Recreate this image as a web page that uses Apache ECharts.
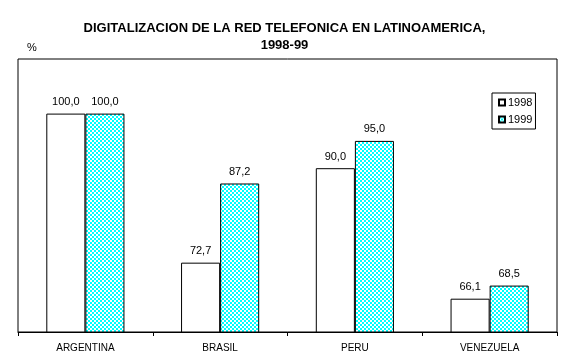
<!DOCTYPE html>
<html>
<head>
<meta charset="utf-8">
<script src="https://cdn.jsdelivr.net/npm/echarts@6/dist/echarts.min.js"></script>
<style>
html,body{margin:0;padding:0;background:#fff;}
#c{width:569px;height:364px;}
</style>
</head>
<body>
<div id="c"></div>
<script>
var categories = ['ARGENTINA', 'BRASIL', 'PERU', 'VENEZUELA'];
var values1998 = [100.0, 72.7, 90.0, 66.1];
var values1999 = [100.0, 87.2, 95.0, 68.5];
var seriesNames = ['1998', '1999'];

var pc = document.createElement('canvas');
pc.width = 4; pc.height = 4;
var ctx = pc.getContext('2d');
ctx.fillStyle = '#ffffff'; ctx.fillRect(0,0,4,4);
ctx.fillStyle = '#00ffff';
ctx.fillRect(0,0,2,2); ctx.fillRect(2,2,2,2);

var chart = echarts.init(document.getElementById('c'), null, {renderer:'canvas'});
var fmt = function(p){ return p.value.toFixed(1).replace('.', ','); };
var labelStyle = {show:true, position:'top', distance:6, color:'#000', fontFamily:'Arial, Liberation Sans', fontSize:11, formatter:fmt};
chart.setOption({
  animation:false,
  backgroundColor:'#fff',
  title:{
    text:'DIGITALIZACION DE LA RED TELEFONICA EN LATINOAMERICA,\n1998-99',
    left:'center', top:15,
    textStyle:{fontFamily:'Arial, Liberation Sans', fontSize:13, fontWeight:'bold', color:'#000', lineHeight:17}
  },
  graphic:[{type:'text', left:27, top:42, style:{text:'%', font:'11px Arial, Liberation Sans', fill:'#000'}}],
  legend:{
    orient:'vertical', left:492, top:93,
    padding:[3,3,3,6], itemGap:4,
    borderColor:'#000', borderWidth:1,
    itemWidth:6, itemHeight:6, icon:'rect',
    textStyle:{fontFamily:'Arial, Liberation Sans', fontSize:11, color:'#000', lineHeight:13, padding:[0,0,0,-2]},
    data:seriesNames
  },
  grid:{left:18, right:12, top:59, bottom:32, show:true, borderColor:'#000', borderWidth:1, containLabel:false},
  xAxis:{
    type:'category', data:categories,
    axisLine:{lineStyle:{color:'#000', width:1}},
    axisTick:{show:true, length:4, lineStyle:{color:'#000'}},
    axisLabel:{color:'#000', fontFamily:'Arial, Liberation Sans', fontSize:10, margin:11}
  },
  yAxis:{
    type:'value', min:60, max:110,
    show:false, splitLine:{show:false}
  },
  series:[
    {name:seriesNames[0], type:'bar', data:values1998, barGap:0, barCategoryGap:'42%',
     itemStyle:{color:'#ffffff', borderColor:'#000', borderWidth:1}, label:labelStyle},
    {name:seriesNames[1], type:'bar', data:values1999,
     itemStyle:{color:{image:pc, repeat:'repeat'}, borderColor:'#000', borderWidth:1}, label:labelStyle}
  ]
});
</script>
</body>
</html>
